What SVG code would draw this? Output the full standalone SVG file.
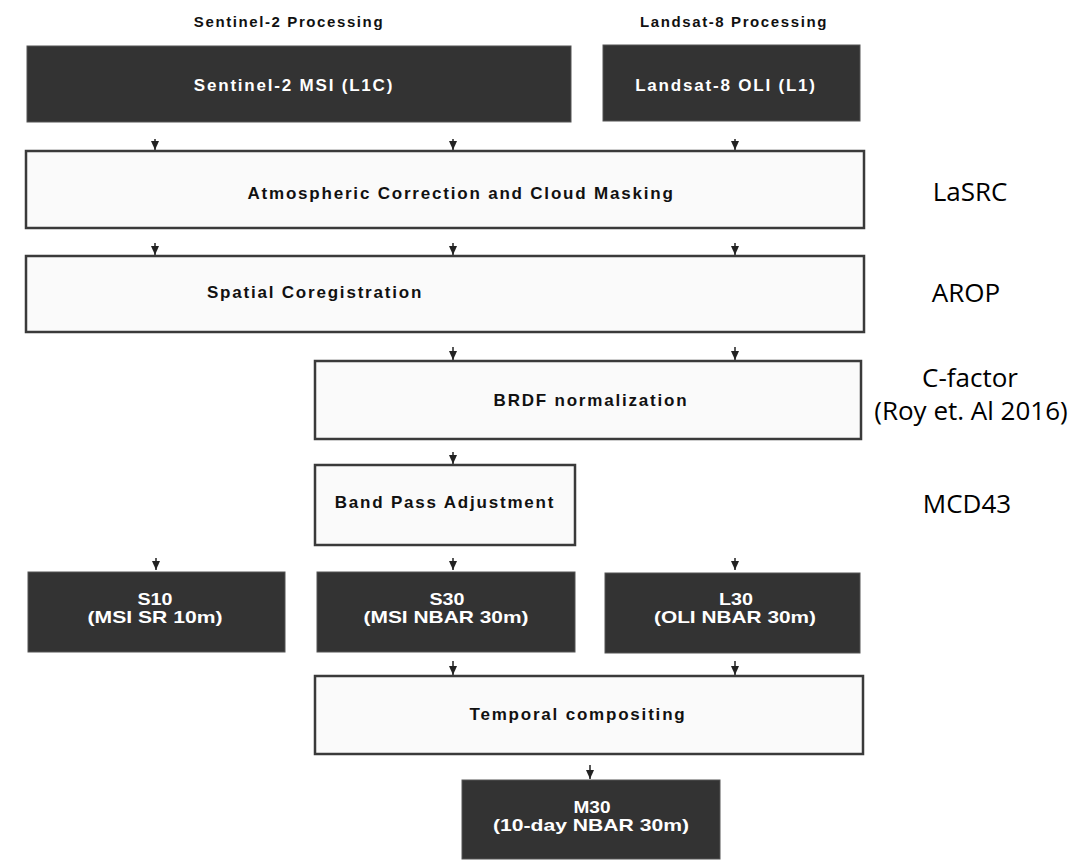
<svg xmlns="http://www.w3.org/2000/svg" width="1077" height="867" viewBox="0 0 1077 867">
<style>
.dark{fill:#333333;stroke:#555;stroke-width:1}
.light{fill:#fafafa;stroke:#3a3a3a;stroke-width:2.5}
.hd{font-family:"Liberation Sans",Arial,sans-serif;font-weight:bold;font-size:15px;letter-spacing:1.6px;fill:#111;text-anchor:middle}
.wt{font-family:"Liberation Sans",Arial,sans-serif;font-weight:bold;font-size:17px;letter-spacing:1.8px;fill:#fff;text-anchor:middle}
.bt{font-family:"Liberation Sans",Arial,sans-serif;font-weight:bold;font-size:17px;letter-spacing:1.8px;fill:#111;text-anchor:middle}
.nt{font-family:"Liberation Sans",Arial,sans-serif;font-weight:bold;font-size:17px;fill:#fff;text-anchor:middle}
.rt{font-family:"Open Sans","Noto Sans",sans-serif;font-size:26px;fill:#000;text-anchor:middle}
.ar{stroke:#222;stroke-width:1.5;fill:none;marker-end:url(#ah)}
</style>
<defs>
<marker id="ah" markerWidth="9" markerHeight="8" refX="9" refY="4" orient="auto" markerUnits="userSpaceOnUse" viewBox="0 0 9 8">
<path d="M0,0 L9,4 L0,8 Z" fill="#222"/>
</marker>
</defs>
<rect width="1077" height="867" fill="#ffffff"/>
<text class="hd" x="289" y="27">Sentinel-2 Processing</text>
<text class="hd" x="734" y="27">Landsat-8 Processing</text>
<g id="connectors">
<line class="ar" x1="155" y1="139" x2="155" y2="150"/>
<line class="ar" x1="453" y1="139" x2="453" y2="150"/>
<line class="ar" x1="735" y1="139" x2="735" y2="150"/>
<line class="ar" x1="155" y1="243" x2="155" y2="255"/>
<line class="ar" x1="453" y1="243" x2="453" y2="255"/>
<line class="ar" x1="735" y1="243" x2="735" y2="255"/>
<line class="ar" x1="453" y1="347" x2="453" y2="360"/>
<line class="ar" x1="735" y1="347" x2="735" y2="360"/>
<line class="ar" x1="453" y1="452" x2="453" y2="464"/>
<line class="ar" x1="156" y1="558" x2="156" y2="570"/>
<line class="ar" x1="453" y1="558" x2="453" y2="570"/>
<line class="ar" x1="735" y1="558" x2="735" y2="570"/>
<line class="ar" x1="453" y1="661" x2="453" y2="675"/>
<line class="ar" x1="735" y1="661" x2="735" y2="675"/>
<line class="ar" x1="590" y1="765" x2="590" y2="779"/>
</g>
<g id="s2msi"><rect class="dark" x="27" y="46" width="544" height="76"/><text class="wt" x="294" y="91">Sentinel-2 MSI (L1C)</text></g>
<g id="l8oli"><rect class="dark" x="603" y="45" width="257" height="76"/><text class="wt" x="726" y="91">Landsat-8 OLI (L1)</text></g>
<g id="atmos"><rect class="light" x="26" y="151" width="838" height="77"/><text class="bt" x="461" y="199">Atmospheric Correction and Cloud Masking</text></g>
<g id="coreg"><rect class="light" x="26" y="256" width="838" height="76"/><text class="bt" x="315" y="298">Spatial Coregistration</text></g>
<g id="brdf"><rect class="light" x="315" y="361" width="546" height="78"/><text class="bt" x="591" y="406">BRDF normalization</text></g>
<g id="bandpass"><rect class="light" x="315" y="465" width="260" height="80"/><text class="bt" x="445" y="508">Band Pass Adjustment</text></g>
<g id="s10"><rect class="dark" x="28" y="572" width="257" height="80"/><text class="nt" x="155" y="605" textLength="35" lengthAdjust="spacingAndGlyphs">S10</text><text class="nt" x="155" y="623" textLength="135" lengthAdjust="spacingAndGlyphs">(MSI SR 10m)</text></g>
<g id="s30"><rect class="dark" x="317" y="572" width="258" height="80"/><text class="nt" x="447" y="605" textLength="35" lengthAdjust="spacingAndGlyphs">S30</text><text class="nt" x="446" y="623" textLength="165" lengthAdjust="spacingAndGlyphs">(MSI NBAR 30m)</text></g>
<g id="l30"><rect class="dark" x="605" y="573" width="255" height="80"/><text class="nt" x="736" y="605" textLength="34" lengthAdjust="spacingAndGlyphs">L30</text><text class="nt" x="735" y="623" textLength="162" lengthAdjust="spacingAndGlyphs">(OLI NBAR 30m)</text></g>
<g id="temporal"><rect class="light" x="315" y="676" width="548" height="78"/><text class="bt" x="578" y="720">Temporal compositing</text></g>
<g id="m30"><rect class="dark" x="462" y="780" width="258" height="79"/><text class="nt" x="592" y="813" textLength="37" lengthAdjust="spacingAndGlyphs">M30</text><text class="nt" x="591" y="831" textLength="196" lengthAdjust="spacingAndGlyphs">(10-day NBAR 30m)</text></g>
<g id="labels">
<text class="rt" x="970" y="201">LaSRC</text>
<text class="rt" x="966" y="302">AROP</text>
<text class="rt" x="970" y="387">C-factor</text>
<text class="rt" x="971" y="420">(Roy et. Al 2016)</text>
<text class="rt" x="967" y="513">MCD43</text>
</g>
</svg>
